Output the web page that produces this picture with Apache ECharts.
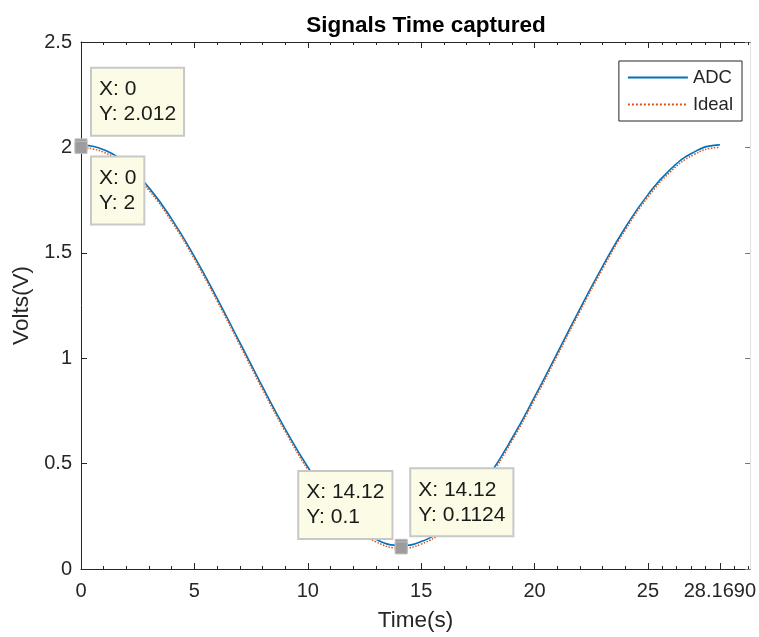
<!DOCTYPE html>
<html>
<head>
<meta charset="utf-8">
<script src="https://cdn.jsdelivr.net/npm/echarts@6/dist/echarts.min.js"></script>
<style>html,body{margin:0;padding:0;background:#fff;}#c{width:759px;height:637px;}</style>
</head>
<body>
<div id="c"></div>
<script>
// ---- data ----
var timeX = [0,1,2,3,4,5,6,7,8,9,10,11,12,13,14.12,15,16,17,18,19,20,21,22,23,24,25,26,27,28,28.169];
var adcY  = [2.012,1.989,1.919,1.808,1.660,1.482,1.284,1.075,0.865,0.665,0.484,0.332,0.216,0.141,0.1124,0.130,0.194,0.301,0.445,0.619,0.816,1.024,1.234,1.436,1.620,1.776,1.897,1.976,2.011,2.012];
var idealY= [2.000,1.977,1.907,1.796,1.648,1.470,1.272,1.063,0.853,0.653,0.472,0.320,0.204,0.129,0.100,0.118,0.182,0.289,0.433,0.607,0.804,1.012,1.222,1.424,1.608,1.764,1.885,1.964,1.999,2.000];
var xMajorTicks = [0,5,10,15,20,25,28.169];
var xMinorTicks = [1,2,3,4,6,7,8,9,11,12,13,14,16,17,18,19,21,22,23,24,25.634,26.268,26.901,27.535,28.803,29.437];
var yTicks = [0,0.5,1,1.5,2,2.5];
var adcTipX = [0,14.12];   var adcTipY = [2.012,0.1124];
var idealTipX = [0,14.12]; var idealTipY = [2,0.1];

var FONT = 'Liberation Sans';
var TXT = '#262626';

function pairs(xs, ys){ return xs.map(function(x,i){ return [x, ys[i]]; }); }

function tip(x, y, vAlign, off){
  return {
    coord: [x, y],
    value: y,
    label: {
      show: true,
      position: 'inside',
      align: 'left',
      verticalAlign: vAlign,
      offset: off,
      formatter: 'X: ' + x + '\nY: ' + y,
      fontFamily: FONT, fontSize: 21, lineHeight: 25, color: '#1a1a1a',
      backgroundColor: '#fbfbe6', borderColor: '#c8c8c8', borderWidth: 2,
      padding: [8, 7, 8, 7]
    }
  };
}

var chart = echarts.init(document.getElementById('c'));
var xCommon = { type: 'value', min: 0, max: 29.5, splitLine: { show: false } };
function xAxisDef(pos, ticks, len, showLine, showLabels){
  return Object.assign({}, xCommon, {
    position: pos,
    axisLine: { show: showLine, onZero: false, lineStyle: { color: TXT, width: 1 } },
    axisTick: { show: true, inside: true, length: len, customValues: ticks, lineStyle: { color: TXT } },
    axisLabel: showLabels ? {
      show: true, customValues: ticks, margin: 12, fontFamily: FONT, fontSize: 20, color: TXT,
      formatter: function(v){ return Math.abs(v - 28.169) < 1e-6 ? '28.1690' : String(v); }
    } : { show: false },
    name: showLabels ? 'Time(s)' : '',
    nameLocation: 'middle', nameGap: 40,
    nameTextStyle: { fontFamily: FONT, fontSize: 22.5, color: TXT }
  });
}

chart.setOption({
  backgroundColor: '#ffffff',
  animation: false,
  title: {
    text: 'Signals Time captured',
    left: 421, top: 9, textAlign: 'center',
    textStyle: { fontFamily: FONT, fontSize: 22.5, fontWeight: 'bold', color: '#000' }
  },
  legend: {
    data: ['ADC', 'Ideal'],
    orient: 'vertical',
    right: 17, top: 61,
    itemWidth: 60, itemHeight: 14, itemGap: 8,
    itemStyle: { opacity: 0 },
    backgroundColor: '#fff', borderColor: TXT, borderWidth: 1, borderRadius: 0,
    padding: [7, 9, 7, 8],
    textStyle: { fontFamily: FONT, fontSize: 18.5, color: TXT }
  },
  grid: { left: 81, right: 8, top: 42, bottom: 65, containLabel: false },
  xAxis: [
    xAxisDef('bottom', xMajorTicks, 6, true, true),
    xAxisDef('bottom', xMinorTicks, 3, false, false),
    xAxisDef('top', xMajorTicks, 6, true, false),
    xAxisDef('top', xMinorTicks, 3, false, false)
  ],
  yAxis: [
    { type: 'value', min: 0, max: 2.5, interval: 0.5, position: 'left',
      splitLine: { show: false },
      axisLine: { show: true, onZero: false, lineStyle: { color: TXT, width: 1 } },
      axisTick: { inside: true, length: 6, lineStyle: { color: TXT } },
      axisLabel: { margin: 9, fontFamily: FONT, fontSize: 20, color: TXT,
        formatter: function(v){ return yTicks.indexOf(v) >= 0 ? String(v) : ''; } },
      name: 'Volts(V)', nameLocation: 'middle', nameGap: 45,
      nameTextStyle: { fontFamily: FONT, fontSize: 22.5, color: TXT }
    },
    { type: 'value', min: 0, max: 2.5, interval: 0.5, position: 'right',
      splitLine: { show: false },
      axisLine: { show: true, onZero: false, lineStyle: { color: '#e2e2e2', width: 1 } },
      axisTick: { inside: true, length: 5, lineStyle: { color: '#777' } },
      axisLabel: { show: false }
    }
  ],
  series: [
    {
      name: 'ADC', type: 'line', xAxisIndex: 0, yAxisIndex: 0,
      data: pairs(timeX, adcY), smooth: true, showSymbol: false, symbol: 'none',
      color: '#0072BD',
      lineStyle: { color: '#0072BD', width: 1.6, type: 'solid' },
      z: 2,
      markPoint: {
        symbol: 'rect', symbolSize: 12,
        itemStyle: { color: '#9c9c9c', borderColor: '#bdbdbd', borderWidth: 1 },
        data: [
          tip(adcTipX[0], adcTipY[0], 'bottom', [11, -10]),
          tip(adcTipX[1], adcTipY[1], 'bottom', [10, -10])
        ]
      }
    },
    {
      name: 'Ideal', type: 'line', xAxisIndex: 0, yAxisIndex: 0,
      data: pairs(timeX, idealY), smooth: true, showSymbol: false, symbol: 'none',
      color: '#D95319',
      lineStyle: { color: '#D95319', width: 1.5, type: 'dotted' },
      z: 3,
      markPoint: {
        symbol: 'rect', symbolSize: 12,
        itemStyle: { color: '#9c9c9c', borderColor: '#bdbdbd', borderWidth: 1 },
        data: [
          tip(idealTipX[0], idealTipY[0], 'top', [11, 10]),
          tip(idealTipX[1], idealTipY[1], 'bottom', [-102, -10])
        ]
      }
    }
  ]
});
</script>
</body>
</html>
